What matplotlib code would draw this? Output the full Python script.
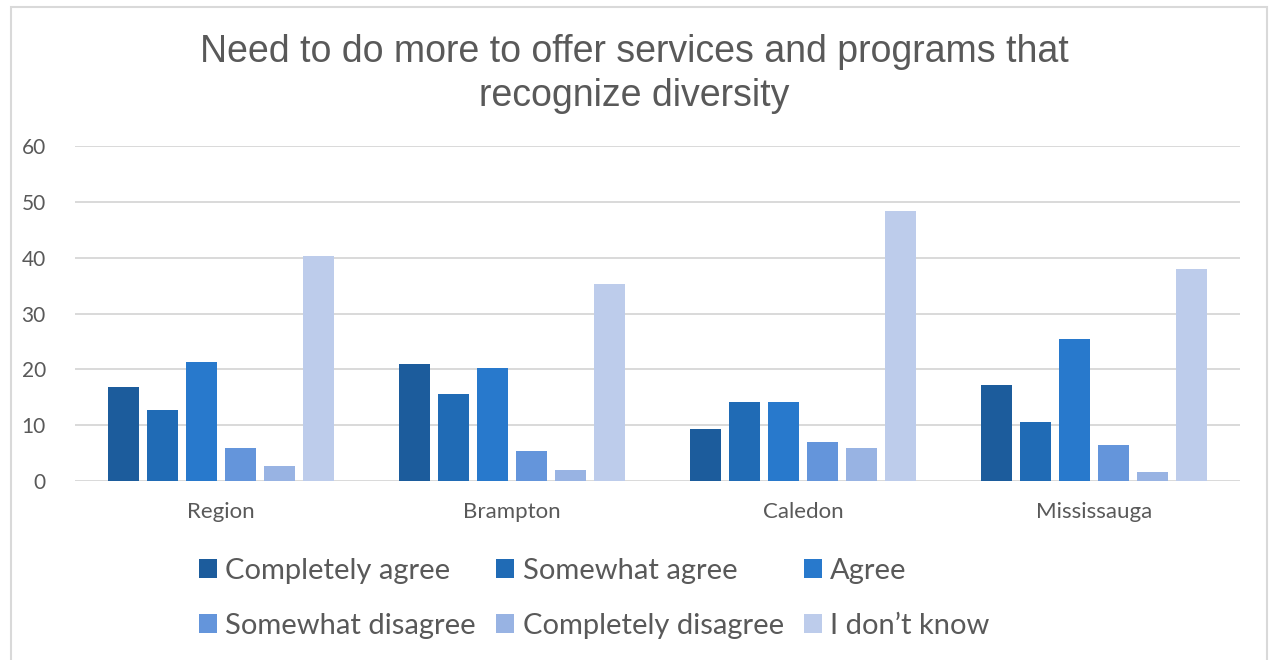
import numpy as np
import matplotlib.pyplot as plt
from matplotlib.patches import Rectangle

# Survey data
cities = ['Region', 'Brampton', 'Caledon', 'Mississauga']
responses = ['Completely agree', 'Somewhat agree', 'Agree',
             'Somewhat disagree', 'Completely disagree', 'I don\u2019t know']

completely_agree = [16.9, 21.0, 9.4, 17.2]
somewhat_agree = [12.8, 15.6, 14.2, 10.6]
agree = [21.4, 20.3, 14.2, 25.4]
somewhat_disagree = [6.0, 5.3, 7.0, 6.4]
completely_disagree = [2.7, 1.9, 5.9, 1.7]
dont_know = [40.3, 35.2, 48.3, 37.9]

colors = ['#1c5c9c', '#206bb5', '#2879cc', '#6495db', '#98b3e3', '#bdcceb']

title = 'Need to do more to offer services and programs that\nrecognize diversity'


def main():
    series = [completely_agree, somewhat_agree, agree,
              somewhat_disagree, completely_disagree, dont_know]

    fig = plt.figure(figsize=(12.69, 6.60), dpi=100)
    ax = fig.add_axes([75 / 1269, 1 - 481 / 660, 1165 / 1269, 335 / 660])

    x = np.arange(len(cities))
    width = 31 / 291
    step = 39 / 291
    handles = []
    for i, (vals, col) in enumerate(zip(series, colors)):
        offs = (i - 2.5) * step
        b = ax.bar(x + offs, vals, width, color=col, label=responses[i], zorder=3)
        handles.append(b)

    ax.set_xlim(-0.5, len(cities) - 0.5)
    ax.set_ylim(0, 60)
    ax.set_yticks(range(0, 61, 10))
    ax.set_xticks(x)
    ax.set_xticklabels(cities)
    ax.grid(axis='y', color='#d9d9d9', lw=1.4, zorder=0)
    for s in ax.spines.values():
        s.set_visible(False)
    ax.tick_params(length=0, colors='#595959', labelsize=15, labelfontfamily='Lato')
    ax.tick_params(axis='y', pad=21)
    ax.tick_params(axis='x', pad=15, labelsize=16)

    fig.suptitle(title, fontsize=27, color='#595959', family='Liberation Sans',
                 y=1 - 34 / 660, va='top', linespacing=1.3)

    # legend filled row by row, like the original
    order = [0, 3, 1, 4, 2, 5]
    fig.legend(handles=[handles[k] for k in order],
               labels=[responses[k] for k in order],
               loc='upper left', ncol=3,
               bbox_to_anchor=(199 / 1269, 1 - 558 / 660),
               frameon=False, prop={'family': 'Lato', 'size': 21},
               labelcolor='#595959', handlelength=0.62, handleheight=0.62,
               handletextpad=0.28, columnspacing=0.7, labelspacing=1.0,
               borderpad=0, borderaxespad=0)

    # light outer chart border
    fig.patches.append(Rectangle((11 / 1269, -0.01), 1256 / 1269, 1 - 7 / 660 + 0.01,
                                 transform=fig.transFigure, fill=False,
                                 edgecolor='#d9d9d9', lw=1.5))

    fig.savefig('out.png', dpi=100)


main()
